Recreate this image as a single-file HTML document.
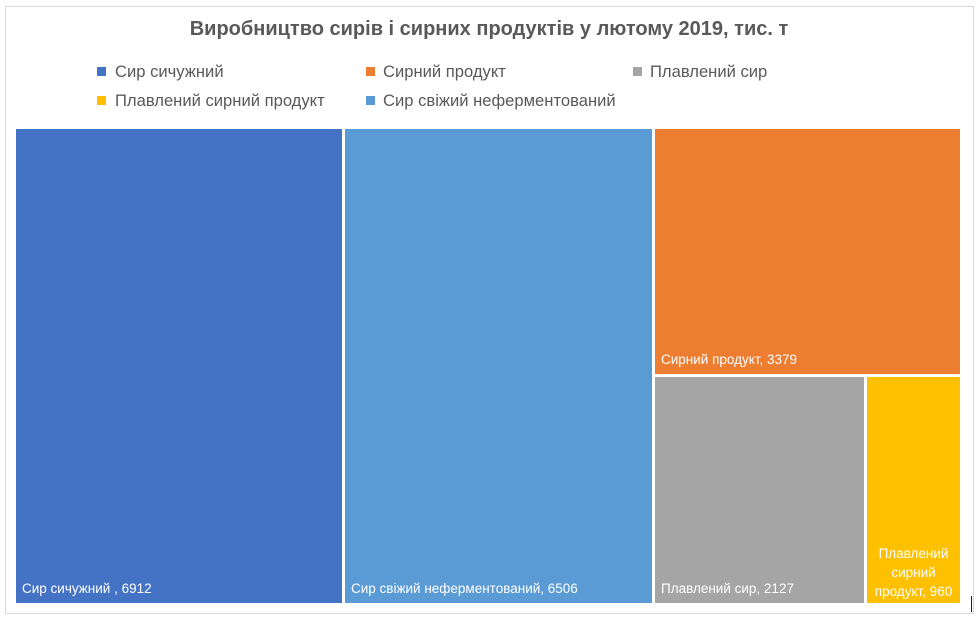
<!DOCTYPE html>
<html><head><meta charset="utf-8"><style>
body{margin:0;width:978px;height:619px;background:#fff;position:relative;font-family:"Liberation Sans",sans-serif;overflow:hidden}
.b{position:absolute}
.frame{left:5px;top:6px;width:967px;height:606px;border:1px solid #d9d9d9}
.title{left:0;width:978px;top:18px;text-align:center;font-size:20px;font-weight:bold;color:#595959}
.lg{font-size:16.6px;color:#595959;white-space:nowrap}
.sq{width:9px;height:9px}
.r{position:absolute}
.lab{position:absolute;color:#fff;font-size:13.5px;white-space:nowrap}
</style></head><body>
<div class="b frame"></div>
<div class="b title">Виробництво сирів і сирних продуктів у лютому 2019, тис. т</div>
<div class="b sq" style="left:97px;top:67px;background:#4472c4"></div><div class="b lg" style="left:115px;top:62px">Сир сичужний</div>
<div class="b sq" style="left:366px;top:67px;background:#ed7d31"></div><div class="b lg" style="left:383px;top:62px">Сирний продукт</div>
<div class="b sq" style="left:633px;top:67px;background:#a5a5a5"></div><div class="b lg" style="left:650px;top:62px">Плавлений сир</div>
<div class="b sq" style="left:97px;top:96px;background:#ffc000"></div><div class="b lg" style="left:115px;top:91px">Плавлений сирний продукт</div>
<div class="b sq" style="left:366px;top:96px;background:#5b9bd5"></div><div class="b lg" style="left:383px;top:91px">Сир свіжий неферментований</div>
<div class="r" style="left:16px;top:129px;width:326px;height:474px;background:#4472c4"></div>
<div class="r" style="left:345px;top:129px;width:307px;height:474px;background:#5b9bd5"></div>
<div class="r" style="left:655px;top:129px;width:305px;height:245px;background:#ed7d31"></div>
<div class="r" style="left:655px;top:377px;width:209px;height:226px;background:#a5a5a5"></div>
<div class="r" style="left:867px;top:377px;width:93px;height:226px;background:#ffc000"></div>
<div class="lab" style="left:22px;top:581px">Сир сичужний , 6912</div>
<div class="lab" style="left:351px;top:581px">Сир свіжий неферментований, 6506</div>
<div class="lab" style="left:661px;top:352px">Сирний продукт, 3379</div>
<div class="lab" style="left:661px;top:581px">Плавлений сир, 2127</div>
<div class="lab" style="left:867px;width:93px;top:544px;text-align:center;white-space:normal;line-height:19px">Плавлений сирний продукт, 960</div>
<div class="b" style="left:971px;top:596px;width:1px;height:16px;background:#222"></div>
</body></html>
